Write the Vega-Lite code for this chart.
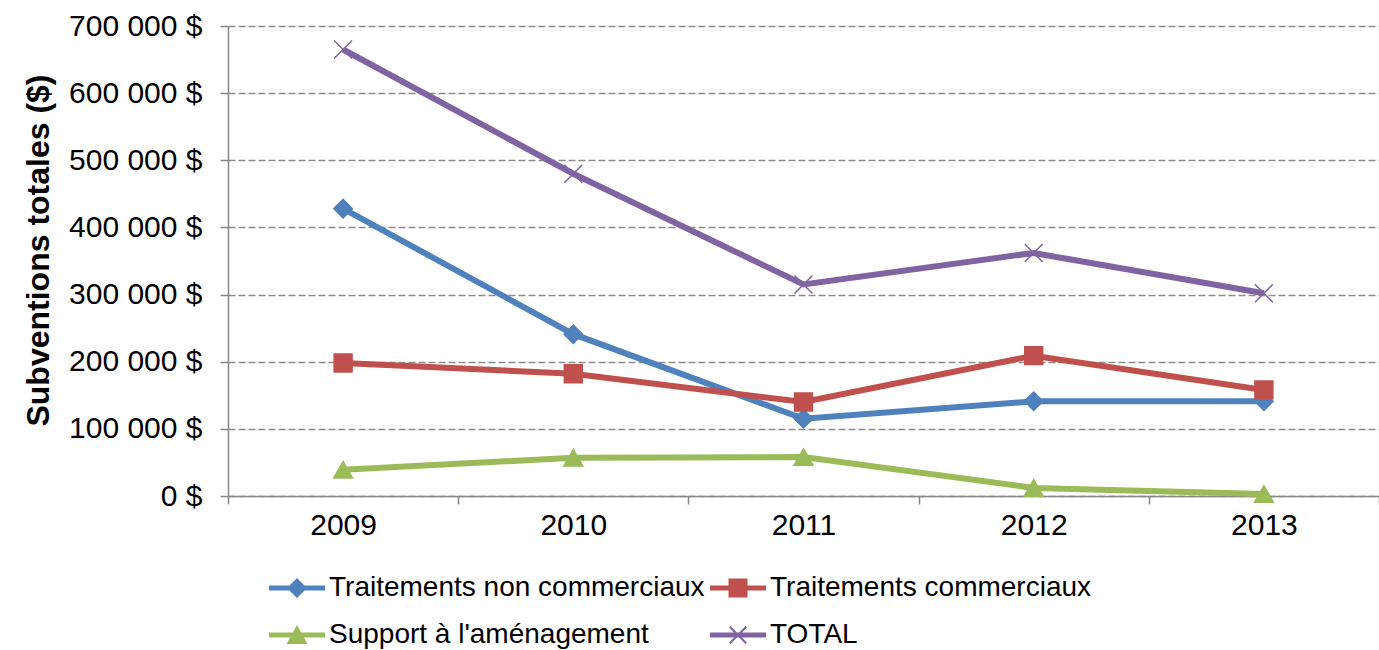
{
  "$schema": "https://vega.github.io/schema/vega-lite/v6.json",
  "width": 1151,
  "height": 470,
  "autosize": {"type": "none"},
  "padding": {"left": 228, "top": 26, "right": 0, "bottom": 154},
  "background": "white",
  "config": {"view": {"stroke": null}, "font": "Liberation Sans"},
  "data": {
    "values": [
      {"year": "2009", "series": "Traitements non commerciaux", "value": 428000},
      {"year": "2010", "series": "Traitements non commerciaux", "value": 241000},
      {"year": "2011", "series": "Traitements non commerciaux", "value": 115000},
      {"year": "2012", "series": "Traitements non commerciaux", "value": 141000},
      {"year": "2013", "series": "Traitements non commerciaux", "value": 141000},
      {"year": "2009", "series": "Traitements commerciaux", "value": 198000},
      {"year": "2010", "series": "Traitements commerciaux", "value": 182000},
      {"year": "2011", "series": "Traitements commerciaux", "value": 140000},
      {"year": "2012", "series": "Traitements commerciaux", "value": 209000},
      {"year": "2013", "series": "Traitements commerciaux", "value": 158000},
      {"year": "2009", "series": "Support à l'aménagement", "value": 39000},
      {"year": "2010", "series": "Support à l'aménagement", "value": 57000},
      {"year": "2011", "series": "Support à l'aménagement", "value": 58000},
      {"year": "2012", "series": "Support à l'aménagement", "value": 12000},
      {"year": "2013", "series": "Support à l'aménagement", "value": 3000},
      {"year": "2009", "series": "TOTAL", "value": 665000},
      {"year": "2010", "series": "TOTAL", "value": 480000},
      {"year": "2011", "series": "TOTAL", "value": 315000},
      {"year": "2012", "series": "TOTAL", "value": 362000},
      {"year": "2013", "series": "TOTAL", "value": 302000}
    ]
  },
  "encoding": {
    "x": {
      "field": "year",
      "type": "nominal",
      "scale": {"type": "band", "paddingInner": 0, "paddingOuter": 0},
      "axis": {
        "title": null,
        "labelAngle": 0,
        "labelFontSize": 30,
        "labelColor": "black",
        "labelPadding": 6,
        "tickBand": "extent",
        "ticks": true,
        "tickSize": 8,
        "tickColor": "#868686",
        "tickWidth": 1.5,
        "domainColor": "#868686",
        "domainWidth": 1.5,
        "grid": false
      }
    },
    "y": {
      "field": "value",
      "type": "quantitative",
      "scale": {"domain": [0, 700000], "nice": false, "zero": true},
      "axis": {
        "title": "Subventions totales ($)",
        "titleFontSize": 32,
        "titleFontWeight": "bold",
        "titleColor": "black",
        "titlePadding": 13,
        "titleY": 224,
        "values": [0, 100000, 200000, 300000, 400000, 500000, 600000, 700000],
        "labelExpr": "replace(format(datum.value, ','), ',', ' ') + ' $'",
        "labelFontSize": 30,
        "labelColor": "black",
        "labelPadding": 18,
        "tickSize": 8,
        "tickColor": "#868686",
        "tickWidth": 1.5,
        "domainColor": "#868686",
        "domainWidth": 1.5,
        "grid": true,
        "gridColor": "#8c8c8c",
        "gridDash": [7, 3],
        "gridWidth": 1.3
      }
    }
  },
  "layer": [
    {
      "mark": {"type": "line", "strokeWidth": 6},
      "encoding": {
        "stroke": {
          "field": "series",
          "type": "nominal",
          "scale": {
            "domain": ["TOTAL", "Support à l'aménagement", "Traitements commerciaux", "Traitements non commerciaux"],
            "range": ["#8064A2", "#9BBB59", "#C0504D", "#4F81BD"]
          },
          "legend": null
        }
      }
    },
    {
      "transform": [{"filter": {"field": "series", "equal": "Traitements non commerciaux"}}],
      "mark": {"type": "point", "shape": "diamond", "filled": true, "size": 340, "strokeWidth": 1.5, "opacity": 1},
      "encoding": {
        "fill": {"field": "series", "type": "nominal", "scale": {"domain": ["TOTAL", "Support à l'aménagement", "Traitements commerciaux", "Traitements non commerciaux"], "range": ["#8064A2", "#9BBB59", "#C0504D", "#4F81BD"]}, "legend": null},
        "stroke": {"field": "series", "type": "nominal", "legend": null}
      }
    },
    {
      "transform": [{"filter": {"field": "series", "equal": "Traitements commerciaux"}}],
      "mark": {"type": "point", "shape": "square", "filled": true, "size": 320, "strokeWidth": 1.5, "opacity": 1},
      "encoding": {
        "fill": {"field": "series", "type": "nominal", "legend": null},
        "stroke": {"field": "series", "type": "nominal", "legend": null}
      }
    },
    {
      "transform": [{"filter": {"field": "series", "equal": "Support à l'aménagement"}}],
      "mark": {"type": "point", "shape": "triangle-up", "filled": true, "size": 360, "strokeWidth": 1.5, "opacity": 1},
      "encoding": {
        "fill": {"field": "series", "type": "nominal", "legend": null},
        "stroke": {"field": "series", "type": "nominal", "legend": null}
      }
    },
    {
      "transform": [{"filter": {"field": "series", "equal": "TOTAL"}}],
      "mark": {"type": "point", "shape": "M-1,-1L1,1M-1,1L1,-1", "filled": false, "size": 320, "strokeWidth": 1.5, "opacity": 1},
      "encoding": {
        "stroke": {"field": "series", "type": "nominal", "legend": null}
      }
    },
    {
      "transform": [{"filter": "datum.value < 0"}],
      "mark": {"type": "point", "filled": true, "size": 400, "opacity": 1, "strokeWidth": 0},
      "encoding": {
        "color": {
          "field": "series",
          "type": "nominal",
          "scale": {
            "domain": ["Traitements non commerciaux", "Traitements commerciaux", "Support à l'aménagement", "TOTAL"],
            "range": ["#4F81BD", "#C0504D", "#9BBB59", "#8064A2"]
          },
          "legend": {
            "title": null,
            "orient": "none",
            "legendX": 42,
            "legendY": 548,
            "direction": "horizontal",
            "columns": 2,
            "columnPadding": 5,
            "rowPadding": 19,
            "padding": 0,
            "symbolSize": 400,
            "symbolStrokeWidth": 0,
            "symbolOpacity": 1,
            "labelFontSize": 28,
            "labelColor": "black",
            "labelOffset": 31,
            "labelLimit": 1000
          }
        },
        "shape": {
          "field": "series",
          "type": "nominal",
          "scale": {
            "domain": ["Traitements non commerciaux", "Traitements commerciaux", "Support à l'aménagement", "TOTAL"],
            "range": [
              "M-1.5,-0.25H4.1V0.25H-1.5Z M1.3,-1L2.3,0L1.3,1L0.3,0Z",
              "M-1.5,-0.25H4.1V0.25H-1.5Z M0.35,-0.95H2.25V0.95H0.35Z",
              "M-1.5,-0.25H4.1V0.25H-1.5Z M1.3,-1L2.35,0.9H0.25Z",
              "M-1.5,-0.25H4.1V0.25H-1.5Z M0.4,-0.75L0.55,-0.9L1.3,-0.15L2.05,-0.9L2.2,-0.75L1.45,0L2.2,0.75L2.05,0.9L1.3,0.15L0.55,0.9L0.4,0.75L1.15,0Z"
            ]
          }
        }
      }
    }
  ]
}
